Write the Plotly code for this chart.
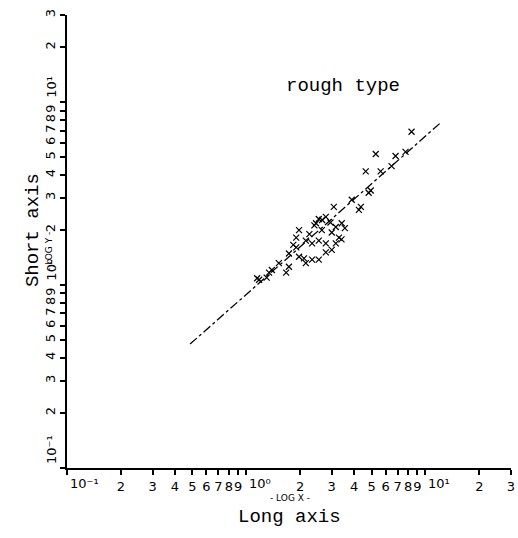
import numpy as np
import plotly.graph_objects as go

# Scatter data (Long axis, Short axis)
long_axis = [8.36, 5.28, 4.64, 5.62, 6.47, 7.74, 6.81, 4.82, 4.25, 3.88,
             3.08, 2.78, 3.41, 3.16, 2.45, 2.64, 2.54, 2.33, 2.15, 1.97,
             1.90, 1.73, 2.78, 3.16, 3.29, 3.00, 2.54, 2.33, 2.15, 1.97,
             1.73, 1.67, 1.52, 1.39, 1.18, 1.34, 1.90, 2.78, 3.00, 2.54,
             4.95, 4.36, 2.95, 2.65, 2.40, 1.83, 3.55, 3.40, 2.10, 2.25,
             1.30, 1.15]
short_axis = [6.90, 5.21, 4.19, 4.19, 4.47, 5.35, 5.08, 3.20, 2.58, 2.93,
              2.68, 2.36, 2.18, 2.08, 2.18, 2.00, 1.75, 1.69, 1.75, 2.00,
              1.61, 1.49, 1.69, 1.69, 1.82, 1.56, 1.38, 1.38, 1.32, 1.43,
              1.26, 1.17, 1.32, 1.21, 1.07, 1.17, 1.82, 1.51, 1.94, 2.30,
              3.29, 2.68, 2.20, 2.27, 2.12, 1.66, 2.05, 1.78, 1.40, 1.90,
              1.10, 1.09]

# Regression line end points
line_x = [0.486, 12.1]
line_y = [0.476, 7.7]

# Axis ticks
tick_vals = [0.1, 0.2, 0.3, 0.4, 0.5, 0.6, 0.7, 0.8, 0.9,
             1, 2, 3, 4, 5, 6, 7, 8, 9, 10, 20, 30]
tick_text = ["", "2", "3", "4", "5", "6", "7", "8", "9",
             "", "2", "3", "4", "5", "6", "7", "8", "9",
             "", "2", "3"]
decade_vals = [0.1, 1, 10]
decade_text = ["10⁻¹", "10⁰", "10¹"]

TICKFONT = dict(family="DejaVu Sans", size=13, color="black")

fig = go.Figure()
fig.add_trace(go.Scatter(x=line_x, y=line_y, mode="lines",
                         line=dict(color="black", width=1.3, dash="dashdot"),
                         showlegend=False, hoverinfo="skip"))
fig.add_trace(go.Scatter(x=long_axis, y=short_axis, mode="markers",
                         marker=dict(symbol="x-thin-open", size=6, color="black",
                                     line=dict(color="black", width=1.2)),
                         showlegend=False))

axis_common = dict(type="log", range=[-1, np.log10(30)], showgrid=False,
                   zeroline=False, showline=True, linecolor="black", linewidth=2,
                   ticks="outside", ticklen=5, tickwidth=1.5, tickcolor="black",
                   tickmode="array", tickvals=tick_vals, ticktext=tick_text,
                   tickfont=TICKFONT, mirror=False, automargin=False)

annotations = [
    dict(text="rough type", x=0.622, y=0.872, xref="paper", yref="paper",
         showarrow=False, font=dict(family="Liberation Mono", size=19, color="black")),
    dict(text="Short axis", x=-0.106, y=0.525, xref="paper", yref="paper",
         showarrow=False, textangle=-90,
         font=dict(family="Liberation Mono", size=19, color="black")),
    dict(text="- LOG Y -", x=-0.056, y=0.477, xref="paper", yref="paper",
         showarrow=False, textangle=-90,
         font=dict(family="DejaVu Sans", size=9, color="black")),
    dict(text="- LOG X -", x=0.502, y=-0.082, xref="paper", yref="paper",
         showarrow=False,
         font=dict(family="DejaVu Sans", size=9, color="black")),
    dict(text="Long axis", x=0.502, y=-0.136, xref="paper", yref="paper",
         showarrow=False,
         font=dict(family="Liberation Mono", size=19, color="black")),
]
for v, t in zip(decade_vals, decade_text):
    annotations.append(dict(text=t, x=np.log10(v), y=0, xref="x", yref="paper",
                            xanchor="left", yanchor="top", yshift=-6, xshift=1,
                            showarrow=False, font=TICKFONT))
    annotations.append(dict(text=t, x=0, y=np.log10(v), xref="paper", yref="y",
                            xanchor="right", yanchor="bottom", xshift=-6, yshift=2,
                            textangle=-90, showarrow=False, font=TICKFONT))

fig.update_layout(
    width=518, height=538,
    margin=dict(l=67, r=7, t=15, b=70),
    paper_bgcolor="white", plot_bgcolor="white",
    xaxis=dict(**axis_common, tickangle=0),
    yaxis=dict(**axis_common, tickangle=-90),
    annotations=annotations,
)

fig.write_html(
    "out.html",
    config={"displayModeBar": False},
    post_script="document.body.style.margin='0';document.body.style.overflow='hidden';",
)
